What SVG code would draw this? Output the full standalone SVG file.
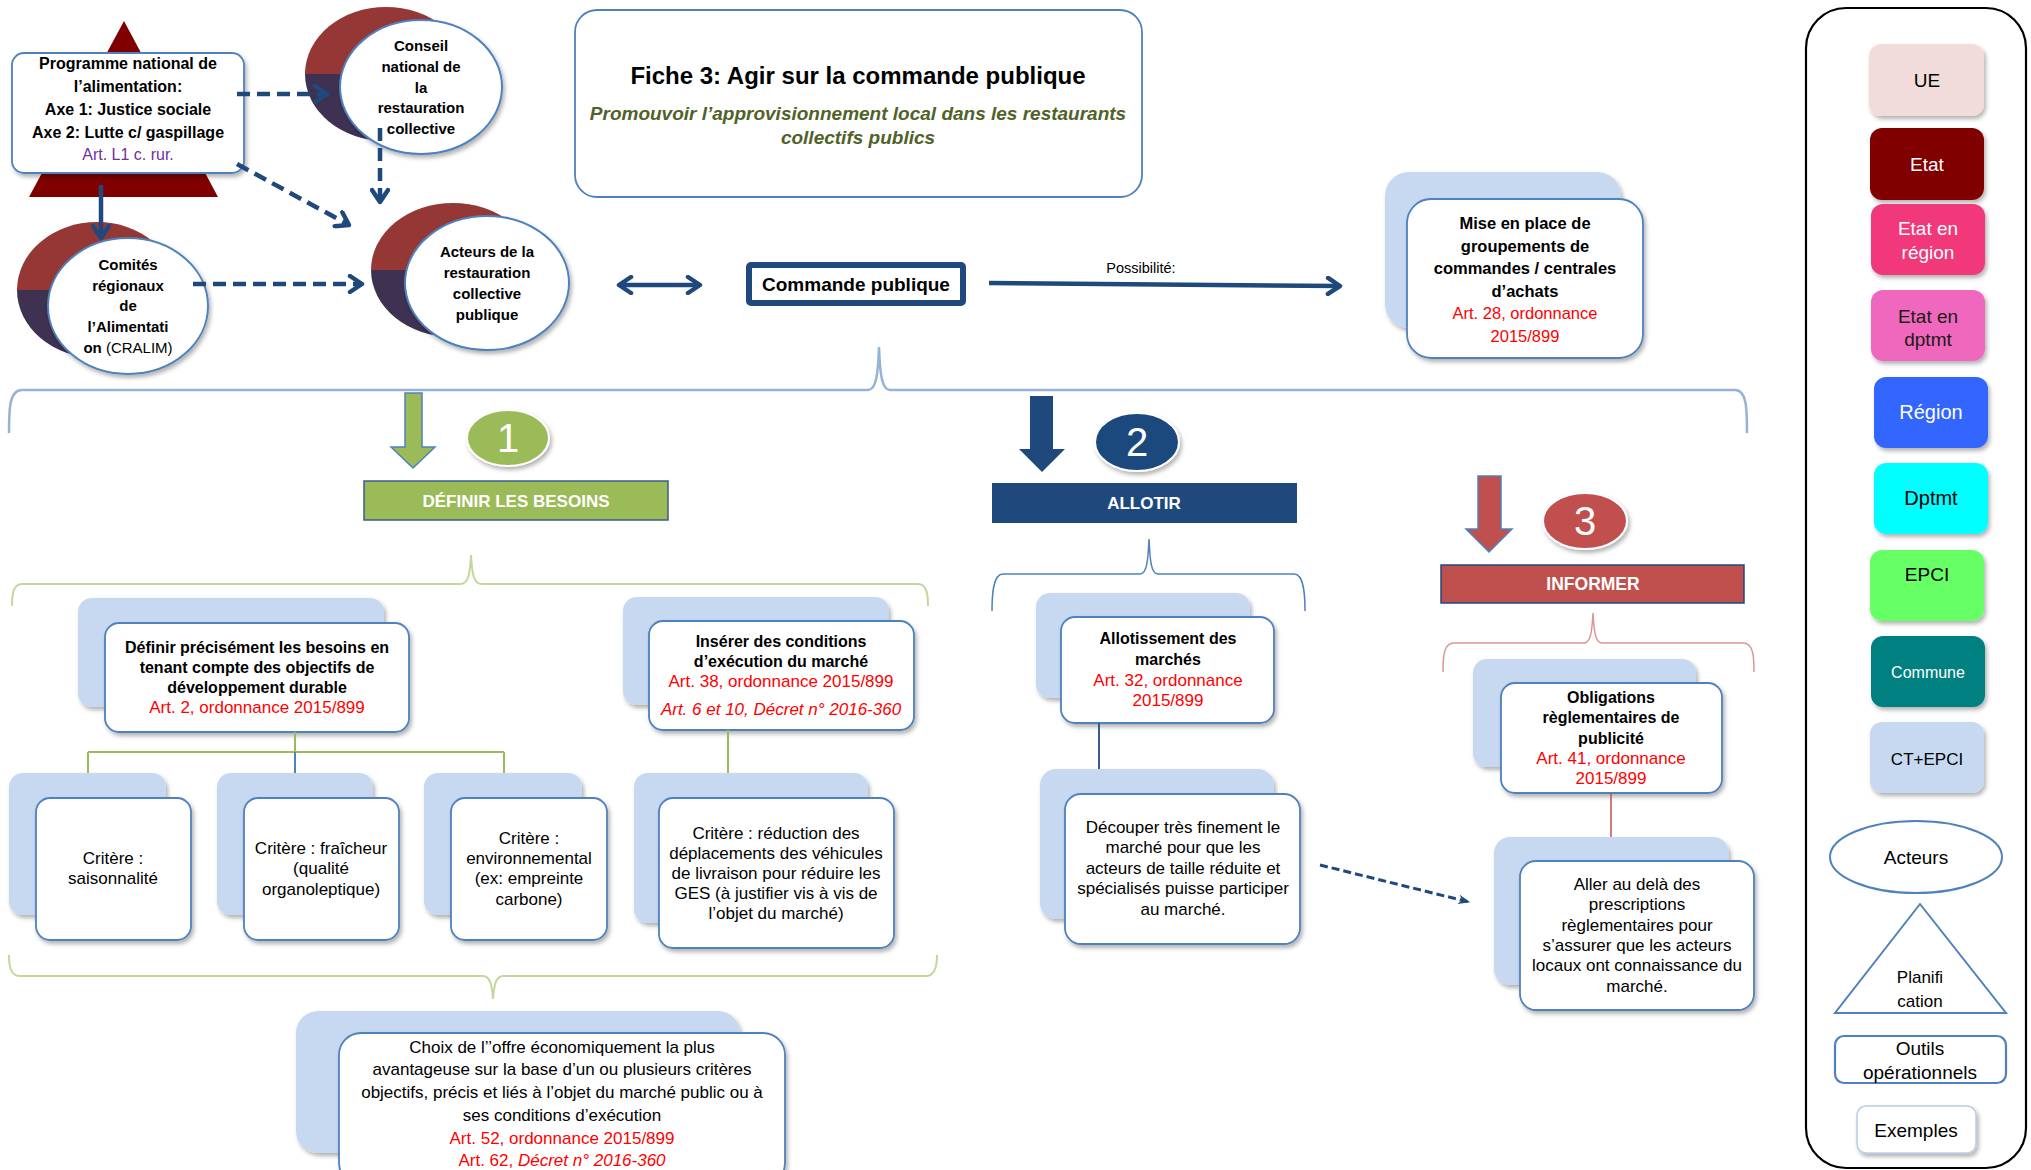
<svg xmlns="http://www.w3.org/2000/svg" width="2031" height="1170" viewBox="0 0 2031 1170">
<style>
text{font-family:"Liberation Sans",Arial,sans-serif;text-anchor:middle;fill:#000}
.b{font-weight:bold}
.r{fill:#FF0000}
.i{font-style:italic}
.w{fill:#fff}
.front{fill:#fff;stroke:#4F81BD;stroke-width:1.8}
.back{fill:#C6D9F1}
.circ{fill:#fff;stroke:#4F81BD;stroke-width:2}
.topc{fill:#953735}
.botc{fill:#3F3151}
.f15{font-size:15px}
.f16{font-size:16px}
.f17{font-size:17px}
.f19{font-size:19px}
.dash{fill:none;stroke:#1F497D;stroke-width:4.5;stroke-dasharray:13 7}
.solid{fill:none;stroke:#1F497D;stroke-width:4.5}
.leg{stroke:none}
</style>
<defs>
<filter id="sh" x="-10%" y="-10%" width="130%" height="130%">
<feDropShadow dx="2" dy="3" stdDeviation="2" flood-color="#000" flood-opacity="0.3"/>
</filter>
<marker id="chev" viewBox="0 0 20 20" refX="17" refY="10" markerUnits="userSpaceOnUse" markerWidth="20" markerHeight="20" orient="auto-start-reverse">
<path d="M5,2 L17,10 L5,18" fill="none" stroke="#1F497D" stroke-width="4.5" stroke-dasharray="none" stroke-linecap="round" stroke-linejoin="round"/>
</marker>
<marker id="tri" viewBox="0 0 10 10" refX="9" refY="5" markerUnits="userSpaceOnUse" markerWidth="12" markerHeight="12" orient="auto">
<path d="M0,1 L10,5 L0,9 L3,5 Z" fill="#1F497D"/>
</marker>
</defs>
<rect width="2031" height="1170" fill="#fff"/>

<!-- Programme national -->
<g id="programme">
<polygon points="124,21 218,197 29,197" fill="#800000"/>
<rect x="12" y="53" width="232" height="120" rx="12" class="front" filter="url(#sh)"/>
<text class="b f16" x="128" y="69">Programme national de</text>
<text class="b f16" x="128" y="92">l’alimentation:</text>
<text class="b f16" x="128" y="115">Axe 1: Justice sociale</text>
<text class="b f16" x="128" y="138">Axe 2: Lutte c/ gaspillage</text>
<text class="f16" x="128" y="160" style="fill:#7030A0">Art. L1 c. rur.</text>
</g>

<g id="conseil">
<path class="topc" d="M305,74 A81,67 0 0 1 467,74 Z"/>
<path class="botc" d="M305,74 A81,67 0 0 0 467,74 Z"/>
<ellipse cx="421" cy="87" rx="81" ry="67" class="circ" filter="url(#sh)"/>
<text class="b f15" x="421" y="51">Conseil</text>
<text class="b f15" x="421" y="72">national de</text>
<text class="b f15" x="421" y="93">la</text>
<text class="b f15" x="421" y="113">restauration</text>
<text class="b f15" x="421" y="134">collective</text>
</g>

<g id="acteurs-restauration">
<path class="topc" d="M371,270 A82,67 0 0 1 535,270 Z"/>
<path class="botc" d="M371,270 A82,67 0 0 0 535,270 Z"/>
<ellipse cx="487" cy="283" rx="82" ry="67" class="circ" filter="url(#sh)"/>
<text class="b f15" x="487" y="257">Acteurs de la</text>
<text class="b f15" x="487" y="278">restauration</text>
<text class="b f15" x="487" y="299">collective</text>
<text class="b f15" x="487" y="320">publique</text>
</g>

<g id="cralim">
<path class="topc" d="M17,290 A80,68 0 0 1 177,290 Z"/>
<path class="botc" d="M17,290 A80,68 0 0 0 177,290 Z"/>
<ellipse cx="128" cy="306" rx="80" ry="68" class="circ" filter="url(#sh)"/>
<text class="b f15" x="128" y="270">Comités</text>
<text class="b f15" x="128" y="291">régionaux</text>
<text class="b f15" x="128" y="311">de</text>
<text class="b f15" x="128" y="332">l’Alimentati</text>
<text class="f15" x="128" y="353"><tspan class="b">on </tspan>(CRALIM)</text>
</g>

<g id="fiche">
<rect x="575" y="10" width="567" height="187" rx="22" fill="#fff" stroke="#4F81BD" stroke-width="1.8"/>
<text class="b" x="858" y="84" style="font-size:24px">Fiche 3: Agir sur la commande publique</text>
<text class="b i f19" x="858" y="120" style="fill:#4F6228">Promouvoir l’approvisionnement local dans les restaurants</text>
<text class="b i f19" x="858" y="144" style="fill:#4F6228">collectifs publics</text>
</g>

<g id="commande">
<rect x="749" y="265" width="214" height="38" rx="2" fill="#fff" stroke="#1F497D" stroke-width="6"/>
<text class="b" x="856" y="291" style="font-size:19px">Commande publique</text>
</g>

<g id="groupements">
<rect x="1385" y="172" width="236" height="156" rx="24" class="back" filter="url(#sh)"/>
<rect x="1407" y="199" width="236" height="159" rx="24" class="front" filter="url(#sh)"/>
<text class="b" x="1525" y="229" style="font-size:16.5px">Mise en place de</text>
<text class="b" x="1525" y="252" style="font-size:16.5px">groupements de</text>
<text class="b" x="1525" y="274" style="font-size:16.5px">commandes / centrales</text>
<text class="b" x="1525" y="297" style="font-size:16.5px">d’achats</text>
<text class="r" x="1525" y="319" style="font-size:16.5px">Art. 28, ordonnance</text>
<text class="r" x="1525" y="342" style="font-size:16.5px">2015/899</text>
</g>

<!-- braces -->
<g id="braces" fill="none">
<path d="M9,433 C9,410 9,390 22,390 L868,390 C876,390 878,375 879,347 C880,375 882,390 890,390 L1735,390 C1747,390 1747,410 1747,433" stroke="#95B3D7" stroke-width="2.5"/>
<path d="M12,606 C12,595 13,584 22,584 L460,584 C468,584 470,575 471,555 C472,575 474,584 482,584 L918,584 C927,584 928,595 928,606" stroke="#C3D69B" stroke-width="2"/>
<path d="M9,955 C9,965 10,976 20,976 L483,976 C490,976 492,985 493,999 C494,985 496,976 503,976 L926,976 C935,976 937,965 937,955" stroke="#C3D69B" stroke-width="2"/>
<path d="M992,611 C992,595 993,574 1003,574 L1140,574 C1147,574 1148,560 1149,539 C1150,560 1151,574 1158,574 L1294,574 C1304,574 1305,595 1305,611" stroke="#4F81BD" stroke-width="1.5"/>
<path d="M1443,672 C1443,655 1444,643 1454,643 L1584,643 C1591,643 1592,630 1593,613 C1594,630 1595,643 1602,643 L1743,643 C1753,643 1754,655 1754,672" stroke="#DA9694" stroke-width="1.5"/>
</g>

<!-- step 1 -->
<g id="step1">
<path d="M405,393 L422,393 L422,447 L435,447 L413,468 L391,447 L405,447 Z" fill="#9BBB59" stroke="#4F81BD" stroke-width="1.5"/>
<ellipse cx="508" cy="438" rx="41" ry="28" fill="#9BBB59" stroke="#fff" stroke-width="2" filter="url(#sh)"/>
<text class="w" x="508" y="452" style="font-size:40px">1</text>
<rect x="364" y="481" width="304" height="39" fill="#9BBB59" stroke="#385D8A" stroke-width="1.5"/>
<text class="b w f17" x="516" y="507">DÉFINIR LES BESOINS</text>
</g>

<g id="step2">
<path d="M1030,396 L1053,396 L1053,449 L1065,449 L1042,472 L1019,449 L1030,449 Z" fill="#1F497D"/>
<ellipse cx="1137" cy="442" rx="42" ry="29" fill="#1F497D" stroke="#fff" stroke-width="2" filter="url(#sh)"/>
<text class="w" x="1137" y="456" style="font-size:40px">2</text>
<rect x="992" y="483" width="305" height="40" fill="#1F497D"/>
<text class="b w f17" x="1144" y="509">ALLOTIR</text>
</g>

<g id="step3">
<path d="M1478,476 L1501,476 L1501,529 L1512,529 L1489,552 L1466,529 L1478,529 Z" fill="#C0504D" stroke="#4F81BD" stroke-width="1.5"/>
<ellipse cx="1585" cy="521" rx="42" ry="28" fill="#C0504D" stroke="#fff" stroke-width="2" filter="url(#sh)"/>
<text class="w" x="1585" y="535" style="font-size:40px">3</text>
<rect x="1441" y="565" width="303" height="38" fill="#C0504D" stroke="#1F497D" stroke-width="1.5"/>
<text class="b w" x="1593" y="590" style="font-size:17.5px">INFORMER</text>
</g>

<!-- step 1 nodes -->
<g id="definir">
<rect x="78" y="598" width="306" height="109" rx="14" class="back" filter="url(#sh)"/>
<rect x="105" y="623" width="304" height="109" rx="14" class="front" filter="url(#sh)"/>
<text class="b f16" x="257" y="653">Définir précisément les besoins en</text>
<text class="b f16" x="257" y="673">tenant compte des objectifs de</text>
<text class="b f16" x="257" y="693">développement durable</text>
<text class="r f17" x="257" y="713">Art. 2, ordonnance 2015/899</text>
</g>

<g id="inserer">
<rect x="623" y="597" width="266" height="108" rx="14" class="back" filter="url(#sh)"/>
<rect x="649" y="621" width="265" height="109" rx="14" class="front" filter="url(#sh)"/>
<text class="b f16" x="781" y="647">Insérer des conditions</text>
<text class="b f16" x="781" y="667">d’exécution du marché</text>
<text class="r f17" x="781" y="687">Art. 38, ordonnance 2015/899</text>
<text class="r i f17" x="781" y="715">Art. 6 et 10, Décret n° 2016-360</text>
</g>

<g id="critere-saisonnalite">
<rect x="9" y="773" width="157" height="142" rx="14" class="back" filter="url(#sh)"/>
<rect x="36" y="798" width="155" height="142" rx="14" class="front" filter="url(#sh)"/>
<text class="f17" x="113" y="864">Critère :</text>
<text class="f17" x="113" y="884">saisonnalité</text>
</g>

<g id="critere-fraicheur">
<rect x="217" y="773" width="156" height="142" rx="14" class="back" filter="url(#sh)"/>
<rect x="244" y="798" width="155" height="142" rx="14" class="front" filter="url(#sh)"/>
<text class="f17" x="321" y="854">Critère : fraîcheur</text>
<text class="f17" x="321" y="874">(qualité</text>
<text class="f17" x="321" y="895">organoleptique)</text>
</g>

<g id="critere-environnemental">
<rect x="424" y="773" width="158" height="142" rx="14" class="back" filter="url(#sh)"/>
<rect x="451" y="798" width="156" height="142" rx="14" class="front" filter="url(#sh)"/>
<text class="f17" x="529" y="844">Critère :</text>
<text class="f17" x="529" y="864">environnemental</text>
<text class="f17" x="529" y="884">(ex: empreinte</text>
<text class="f17" x="529" y="905">carbone)</text>
</g>

<g id="critere-deplacements">
<rect x="634" y="773" width="234" height="150" rx="14" class="back" filter="url(#sh)"/>
<rect x="659" y="798" width="235" height="150" rx="14" class="front" filter="url(#sh)"/>
<text class="f17" x="776" y="839">Critère : réduction des</text>
<text class="f17" x="776" y="859">déplacements des véhicules</text>
<text class="f17" x="776" y="879">de livraison pour réduire les</text>
<text class="f17" x="776" y="899">GES (à justifier vis à vis de</text>
<text class="f17" x="776" y="919">l’objet du marché)</text>
</g>

<g id="choix">
<rect x="296" y="1011" width="444" height="142" rx="22" class="back" filter="url(#sh)"/>
<rect x="339" y="1033" width="446" height="152" rx="22" class="front" filter="url(#sh)"/>
<text class="f17" x="562" y="1053">Choix de l’’offre économiquement la plus</text>
<text class="f17" x="562" y="1075">avantageuse sur la base d’un ou plusieurs critères</text>
<text class="f17" x="562" y="1098">objectifs, précis et liés à l’objet du marché public ou à</text>
<text class="f17" x="562" y="1121">ses conditions d’exécution</text>
<text class="r f17" x="562" y="1144">Art. 52, ordonnance 2015/899</text>
<text class="r f17" x="562" y="1166">Art. 62, <tspan class="i">Décret n° 2016-360</tspan></text>
</g>

<!-- step 2 nodes -->
<g id="allotissement">
<rect x="1036" y="593" width="214" height="105" rx="14" class="back" filter="url(#sh)"/>
<rect x="1061" y="617" width="213" height="106" rx="14" class="front" filter="url(#sh)"/>
<text class="b f16" x="1168" y="644">Allotissement des</text>
<text class="b f16" x="1168" y="665">marchés</text>
<text class="r f17" x="1168" y="686">Art. 32, ordonnance</text>
<text class="r f17" x="1168" y="706">2015/899</text>
</g>

<g id="decouper">
<rect x="1040" y="769" width="234" height="150" rx="16" class="back" filter="url(#sh)"/>
<rect x="1065" y="794" width="235" height="150" rx="16" class="front" filter="url(#sh)"/>
<text class="f17" x="1183" y="833">Découper très finement le</text>
<text class="f17" x="1183" y="853">marché pour que les</text>
<text class="f17" x="1183" y="874">acteurs de taille réduite et</text>
<text class="f17" x="1183" y="894">spécialisés puisse participer</text>
<text class="f17" x="1183" y="915">au marché.</text>
</g>

<!-- step 3 nodes -->
<g id="obligations">
<rect x="1473" y="659" width="223" height="108" rx="14" class="back" filter="url(#sh)"/>
<rect x="1501" y="683" width="221" height="110" rx="14" class="front" filter="url(#sh)"/>
<text class="b f16" x="1611" y="703">Obligations</text>
<text class="b f16" x="1611" y="723">règlementaires de</text>
<text class="b f16" x="1611" y="744">publicité</text>
<text class="r f17" x="1611" y="764">Art. 41, ordonnance</text>
<text class="r f17" x="1611" y="784">2015/899</text>
</g>

<g id="aller">
<rect x="1494" y="837" width="235" height="148" rx="16" class="back" filter="url(#sh)"/>
<rect x="1520" y="861" width="234" height="149" rx="16" class="front" filter="url(#sh)"/>
<text class="f17" x="1637" y="890">Aller au delà des</text>
<text class="f17" x="1637" y="910">prescriptions</text>
<text class="f17" x="1637" y="931">règlementaires pour</text>
<text class="f17" x="1637" y="951">s’assurer que les acteurs</text>
<text class="f17" x="1637" y="971">locaux ont connaissance du</text>
<text class="f17" x="1637" y="992">marché.</text>
</g>

<!-- connectors -->
<g id="connectors">
<path class="dash" d="M237,94 L327,94" marker-end="url(#chev)"/>
<path class="dash" d="M237,164 L349,225" marker-end="url(#chev)"/>
<path class="dash" d="M380,128 L380,202" marker-end="url(#chev)"/>
<path class="solid" d="M101,185 L101,238" marker-end="url(#chev)"/>
<path class="dash" d="M193,284 L362,284" marker-end="url(#chev)"/>
<path class="solid" d="M619,285 L700,285" marker-start="url(#chev)" marker-end="url(#chev)"/>
<path class="solid" d="M989,283 L1340,286" marker-end="url(#chev)"/>
<text x="1141" y="273" style="font-size:14.5px">Possibilité:</text>
<path d="M295,732 V752 M88,752 H504 M88,752 V773 M504,752 V773 M728,730 V773" fill="none" stroke="#9BBB59" stroke-width="2"/>
<path d="M295,752 V773" stroke="#4F81BD" stroke-width="2"/>
<path d="M1099,723 V769" stroke="#385D8A" stroke-width="2"/>
<path d="M1611,793 V837" stroke="#C0504D" stroke-width="1.5"/>
<path d="M1320,865 L1469,902" fill="none" stroke="#1F497D" stroke-width="3" stroke-dasharray="8 4" marker-end="url(#tri)"/>
</g>

<!-- legend -->
<g id="legend">
<rect x="1806" y="8" width="220" height="1160" rx="40" fill="#fff" stroke="#000" stroke-width="2.2"/>
<g id="leg-ue"><rect x="1869" y="44" width="115" height="72" rx="12" fill="#F2DCDB" filter="url(#sh)"/><text class="f19" x="1927" y="87">UE</text></g>
<g id="leg-etat"><rect x="1870" y="128" width="114" height="72" rx="12" fill="#800000" filter="url(#sh)"/><text class="f19 w" x="1927" y="171">Etat</text></g>
<g id="leg-etat-region"><rect x="1871" y="204" width="114" height="71" rx="12" fill="#F0377A" filter="url(#sh)"/><text class="f19 w" x="1928" y="235">Etat en</text><text class="f19 w" x="1928" y="259">région</text></g>
<g id="leg-etat-dptmt"><rect x="1871" y="290" width="114" height="71" rx="12" fill="#F067BE" filter="url(#sh)"/><text class="f19" x="1928" y="323" style="fill:#1a1a1a">Etat en</text><text class="f19" x="1928" y="346" style="fill:#1a1a1a">dptmt</text></g>
<g id="leg-region"><rect x="1874" y="377" width="114" height="71" rx="12" fill="#3366FF" filter="url(#sh)"/><text class="w" x="1931" y="419" style="font-size:20px">Région</text></g>
<g id="leg-dptmt"><rect x="1874" y="463" width="114" height="71" rx="12" fill="#00FFFF" filter="url(#sh)"/><text x="1931" y="505" style="font-size:20px">Dptmt</text></g>
<g id="leg-epci"><rect x="1870" y="550" width="114" height="71" rx="12" fill="#66FF66" filter="url(#sh)"/><text class="f19" x="1927" y="581">EPCI</text></g>
<g id="leg-commune"><rect x="1871" y="636" width="114" height="71" rx="12" fill="#008080" filter="url(#sh)"/><text class="w f16" x="1928" y="678">Commune</text></g>
<g id="leg-ctepci"><rect x="1870" y="722" width="114" height="71" rx="12" fill="#C6D9F1" filter="url(#sh)"/><text class="f17" x="1927" y="765">CT+EPCI</text></g>
<g id="leg-acteurs"><ellipse cx="1916" cy="857" rx="86" ry="36" fill="#fff" stroke="#4F81BD" stroke-width="2"/><text class="f19" x="1916" y="864">Acteurs</text></g>
<g id="leg-planification"><polygon points="1920,904 2006,1013 1835,1013" fill="#fff" stroke="#4F81BD" stroke-width="2"/><text class="f17" x="1920" y="983">Planifi</text><text class="f17" x="1920" y="1007">cation</text></g>
<g id="leg-outils"><rect x="1835" y="1036" width="171" height="47" rx="9" fill="#fff" stroke="#4F81BD" stroke-width="2.2"/><text class="f19" x="1920" y="1055">Outils</text><text class="f19" x="1920" y="1079">opérationnels</text></g>
<g id="leg-exemples"><rect x="1857" y="1106" width="119" height="47" rx="9" fill="#fff" stroke="#B9CDE5" stroke-width="1.5" filter="url(#sh)"/><text class="f19" x="1916" y="1137">Exemples</text></g>
</g>
</svg>
